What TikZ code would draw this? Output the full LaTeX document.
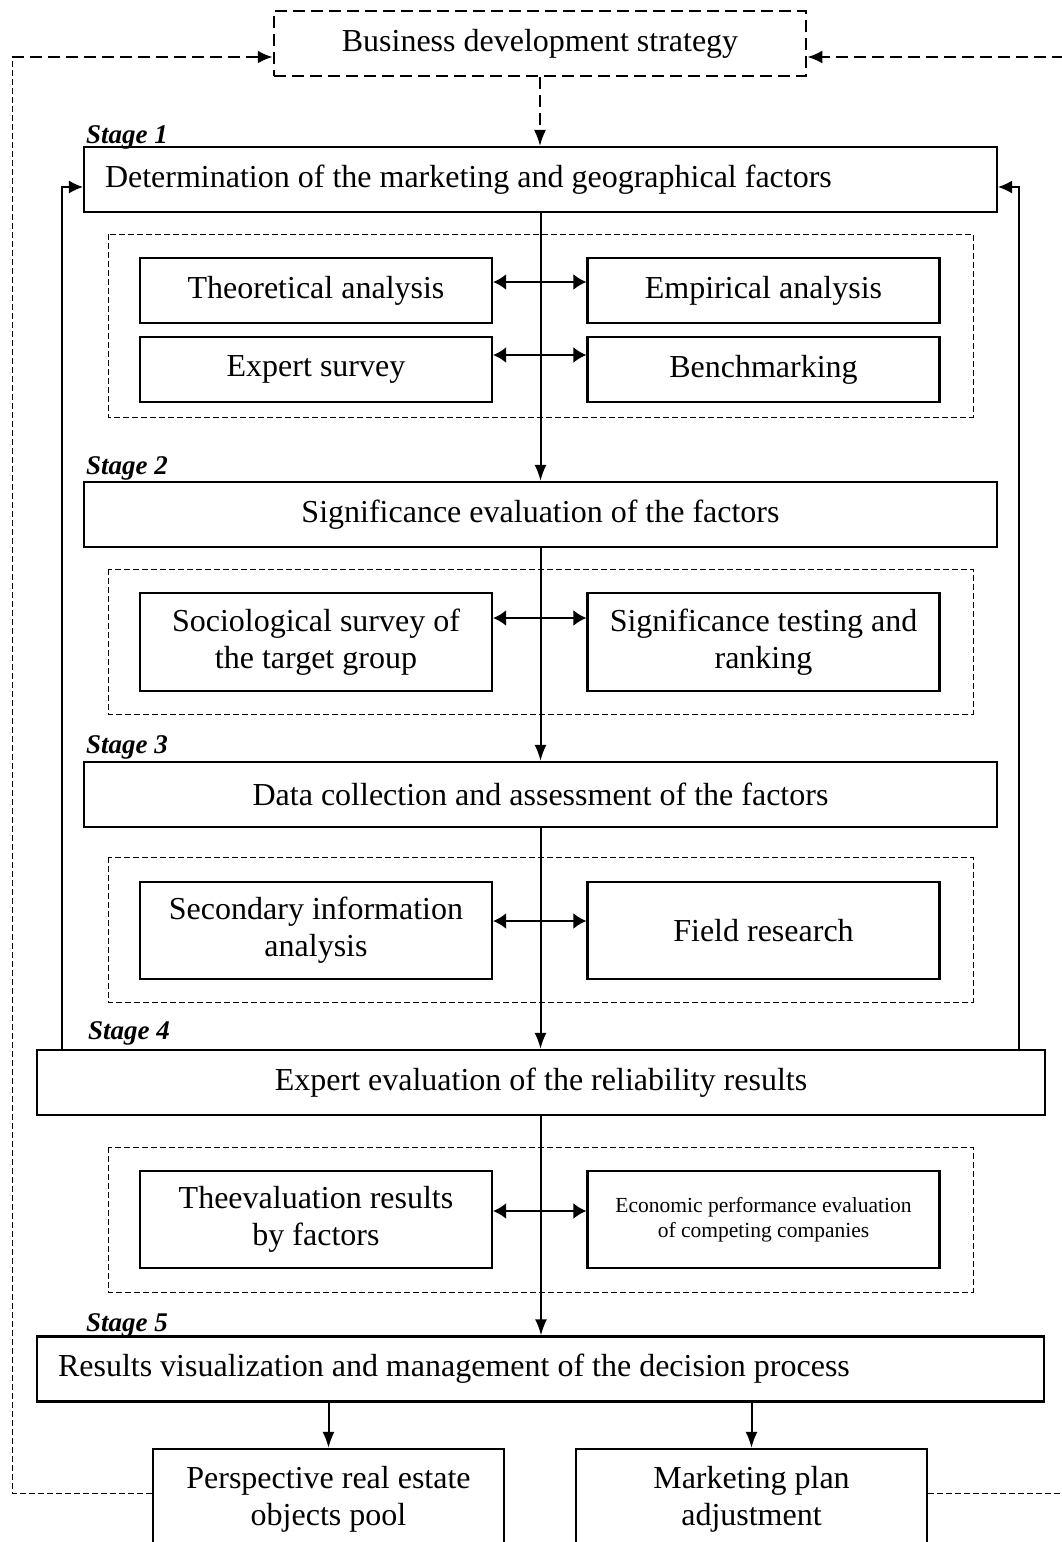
\documentclass[tikz,border=0pt]{standalone}
\usepackage{fontspec}
\setmainfont{Liberation Serif}
\usetikzlibrary{arrows.meta}

\begin{document}
\begin{tikzpicture}[x=1pt, y=-1pt,
    box/.style={draw, line width=2.2pt, inner sep=0pt, align=center, font=\fontsize{32}{37}\selectfont},
    stagebox/.style={box, minimum height=65pt},
    subbox/.style={box, minimum width=352pt},
    grp/.style={draw, line width=1pt, dash pattern=on 6pt off 3pt},
    stagelbl/.style={anchor=west, inner sep=0pt, font=\fontsize{27}{30}\selectfont\bfseries\itshape},
    flow/.style={line width=2pt, -{Latex[length=16pt, width=12pt]}},
    back/.style={line width=1.3pt, -{Latex[length=14pt, width=13pt]}},
    both/.style={line width=2.3pt, {Latex[length=13pt, width=16pt]}-{Latex[length=13pt, width=16pt]}},
    loopline/.style={line width=1pt, dash pattern=on 6pt off 3pt},
    loopthick/.style={line width=2.5pt, dash pattern=on 12pt off 6pt, -{Latex[length=15pt, width=13pt]}}]
    \useasboundingbox (0,0) rectangle (1061,1542);

    \node[box, line width=2.5pt, dash pattern=on 12pt off 6pt, minimum width=532pt, minimum height=65pt] (bds) at (540,43.5) {Business development strategy};

    \node[stagelbl] (l1) at (86,137) {Stage 1};
    \node[stagebox, minimum width=913pt] (s1) at (540.5,179.5) {\makebox[871pt][l]{Determination of the marketing and geographical factors}};
    \node[stagelbl] (l2) at (86,468) {Stage 2};
    \node[stagebox, minimum width=913pt] (s2) at (540.5,514.5) {Significance evaluation of the factors};
    \node[stagelbl] (l3) at (86,747) {Stage 3};
    \node[stagebox, minimum width=913pt] (s3) at (540.5,794.5) {Data collection and assessment of the factors};
    \node[stagelbl] (l4) at (88,1033) {Stage 4};
    \node[stagebox, minimum width=1008pt] (s4) at (541,1082.5) {Expert evaluation of the reliability results};
    \node[stagelbl] (l5) at (86,1325) {Stage 5};
    \node[stagebox, minimum width=1007pt] (s5) at (540.5,1369) {\makebox[965pt][l]{Results visualization and management of the decision process}};

    % groups
    \draw[grp] (108,234) rectangle (973,417);
    \draw[grp] (108,569) rectangle (973,714);
    \draw[grp] (108,857) rectangle (973,1002);
    \draw[grp] (108,1147) rectangle (973,1292);

    \node[subbox, minimum height=65pt] (theo) at (316,290.5) {Theoretical analysis};
    \node[subbox, minimum height=65pt] (emp) at (763.5,290.5) {Empirical analysis};
    \node[subbox, minimum height=65pt] (exps) at (316,369.5) {Expert survey};
    \node[subbox, minimum height=65pt] (bench) at (763.5,369.5) {Benchmarking};
    \node[subbox, minimum height=98pt] (socio) at (316,642) {Sociological survey of\\the target group};
    \node[subbox, minimum height=98pt] (sigt) at (763.5,642) {Significance testing and\\ranking};
    \node[subbox, minimum height=97pt] (secin) at (316,930.5) {Secondary information\\analysis};
    \node[subbox, minimum height=97pt] (field) at (763.5,930.5) {Field research};
    \node[subbox, minimum height=97pt] (evres) at (316,1219.5) {Theevaluation results\\by factors};
    \node[subbox, minimum height=97pt, font=\fontsize{21.5}{25}\selectfont] (econ) at (763.5,1219.5) {Economic performance evaluation\\of competing companies};

    \node[subbox, minimum width=351pt, minimum height=101pt] (persp) at (328.5,1499.5) {Perspective real estate\\objects pool};
    \node[subbox, minimum width=351pt, minimum height=101pt] (mkt) at (751.5,1499.5) {Marketing plan\\adjustment};

    % main flow
    \draw[flow, line width=1.5pt, dash pattern=on 12pt off 6pt] (bds.south) -- (bds.south |- s1.north);
    \draw[flow] (s1.south) -- (s1.south |- s2.north);
    \draw[flow] (s2.south) -- (s2.south |- s3.north);
    \draw[flow] (s3.south) -- (s3.south |- s4.north);
    \draw[flow] (s4.south) -- (s4.south |- s5.north);
    \draw[flow] (persp.north |- s5.south) -- (persp.north);
    \draw[flow] (mkt.north |- s5.south) -- (mkt.north);

    \draw[both] ([yshift=8.5pt]theo.east) -- ([yshift=8.5pt]emp.west);
    \draw[both] ([yshift=14.5pt]exps.east) -- ([yshift=14.5pt]bench.west);
    \draw[both] ([yshift=24pt]socio.east) -- ([yshift=24pt]sigt.west);
    \draw[both] ([yshift=9.5pt]secin.east) -- ([yshift=9.5pt]field.west);
    \draw[both] ([yshift=8.5pt]evres.east) -- ([yshift=8.5pt]econ.west);

    % feedback to stage 1
    \coordinate (fbl) at (62,187);
    \coordinate (fbr) at (1019,187);
    \draw[back] (s4.north -| fbl) -- (fbl) -- (fbl -| s1.west);
    \draw[back] (s4.north -| fbr) -- (fbr) -- (fbr -| s1.east);

    % outer loop
    \coordinate (lb) at (12,1493);
    \coordinate (lt) at (12,57);
    \coordinate (rb) at (1064,1493);
    \coordinate (rt) at (1064,57);
    \draw[loopline] (persp.west |- lb) -- (lb) -- (lt);
    \draw[loopthick] (lt) -- (lt -| bds.west);
    \draw[loopline] (mkt.east |- rb) -- (rb) -- (rt);
    \draw[loopthick] (rt) -- (rt -| bds.east);
\end{tikzpicture}
\end{document}
